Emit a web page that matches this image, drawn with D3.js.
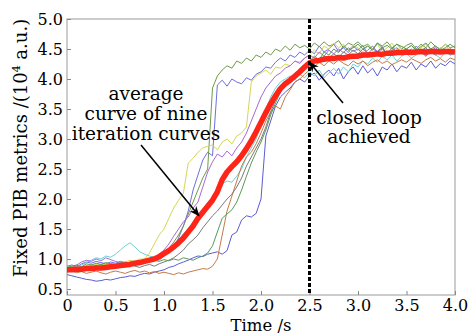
<!DOCTYPE html>
<html>
<head>
<meta charset="utf-8">
<script src="https://cdn.jsdelivr.net/npm/d3@7"></script>
<style>
  body { margin: 0; background: #fff; }
  text { font-family: "DejaVu Serif", serif; }
</style>
</head>
<body>
<div id="chart"></div>
<script>

// sample times (s)
var times = [
  0.00,0.05,0.10,0.15,0.20,0.25,0.30,0.35,0.40,0.45,
  0.50,0.55,0.60,0.65,0.70,0.75,0.80,0.85,0.90,0.95,
  1.00,1.05,1.10,1.15,1.20,1.25,1.30,1.35,1.40,1.45,
  1.50,1.55,1.60,1.65,1.70,1.75,1.80,1.85,1.90,1.95,
  2.00,2.05,2.10,2.15,2.20,2.25,2.30,2.35,2.40,2.45,
  2.50,2.55,2.60,2.65,2.70,2.75,2.80,2.85,2.90,2.95,
  3.00,3.05,3.10,3.15,3.20,3.25,3.30,3.35,3.40,3.45,
  3.50,3.55,3.60,3.65,3.70,3.75,3.80,3.85,3.90,3.95,
  4.00
];

// average curve (thick red)
var avgCurve = [
  0.82,0.82,0.83,0.83,0.84,0.84,0.85,0.85,0.86,0.87,
  0.88,0.89,0.90,0.91,0.93,0.94,0.96,0.98,1.00,1.04,
  1.09,1.14,1.20,1.27,1.35,1.45,1.55,1.68,1.78,1.88,
  1.98,2.12,2.32,2.45,2.54,2.62,2.72,2.84,2.97,3.12,
  3.28,3.44,3.59,3.72,3.84,3.92,3.98,4.05,4.12,4.20,
  4.27,4.30,4.31,4.33,4.34,4.34,4.36,4.35,4.37,4.38,
  4.38,4.40,4.40,4.41,4.42,4.41,4.43,4.43,4.44,4.44,
  4.45,4.44,4.45,4.46,4.45,4.46,4.46,4.45,4.46,4.46,
  4.45
];

// nine iteration curves
var iterBlueLate = [
  0.74,0.72,0.70,0.68,0.66,0.65,0.63,0.64,0.66,0.65,
  0.67,0.69,0.70,0.72,0.71,0.74,0.76,0.75,0.78,0.80,
  0.82,0.86,0.88,0.92,0.95,0.98,1.02,1.05,1.04,1.08,
  1.10,1.12,1.08,1.14,1.40,1.45,1.65,1.72,1.70,1.76,
  2.00,3.05,3.30,3.55,3.70,3.78,3.85,3.95,4.00,3.95,
  4.05,4.10,3.98,4.08,4.15,4.05,4.18,4.00,4.12,4.20,
  4.08,4.22,4.10,4.18,4.05,4.20,4.15,4.25,4.12,4.22,
  4.18,4.28,4.15,4.25,4.20,4.30,4.18,4.26,4.22,4.30,
  4.25
];
var iterBlueEarly = [
  0.88,0.90,0.87,0.92,0.95,0.93,0.96,0.94,0.92,0.95,
  0.93,0.96,0.94,0.92,0.95,0.97,0.95,0.98,1.00,0.98,
  1.05,1.12,1.20,1.35,1.55,1.80,2.15,2.40,2.65,2.78,
  2.72,3.90,3.98,3.88,4.00,3.95,3.92,4.02,3.98,4.08,
  4.12,4.20,4.18,4.28,4.35,4.30,4.40,4.36,4.45,4.40,
  4.48,4.42,4.55,4.45,4.50,4.58,4.46,4.52,4.44,4.55,
  4.48,4.56,4.42,4.50,4.46,4.54,4.40,4.48,4.52,4.45,
  4.50,4.42,4.55,4.46,4.40,4.50,4.45,4.52,4.42,4.48,
  4.45
];
var iterOlive = [
  0.85,0.84,0.87,0.86,0.88,0.90,0.89,0.91,0.90,0.92,
  0.91,0.93,0.92,0.95,0.94,0.96,0.98,1.00,1.02,1.05,
  1.10,1.18,1.28,1.40,1.55,1.75,1.95,2.15,2.35,2.50,
  3.85,4.05,4.15,4.22,4.18,4.30,4.26,4.35,4.30,4.40,
  4.36,4.45,4.40,4.50,4.46,4.55,4.48,4.58,4.52,4.56,
  4.50,4.60,4.54,4.62,4.55,4.58,4.64,4.52,4.60,4.56,
  4.62,4.54,4.58,4.50,4.60,4.55,4.62,4.52,4.58,4.50,
  4.56,4.60,4.50,4.58,4.52,4.62,4.54,4.50,4.58,4.52,
  4.55
];
var iterYellow = [
  0.86,0.88,0.85,0.87,0.90,0.88,0.91,0.89,0.92,0.90,
  0.93,0.91,0.95,0.98,0.96,1.00,1.00,1.10,1.25,1.40,
  1.50,1.68,1.85,1.98,2.10,2.60,2.68,2.78,2.85,2.88,
  2.90,2.82,2.95,3.00,2.92,3.05,3.10,3.20,3.95,4.05,
  4.10,4.15,4.08,4.20,4.18,4.25,4.22,4.30,4.28,4.35,
  4.40,4.48,4.42,4.55,4.50,4.60,4.52,4.58,4.48,4.56,
  4.52,4.45,4.55,4.50,4.58,4.46,4.52,4.60,4.48,4.55,
  4.50,4.56,4.46,4.52,4.58,4.48,4.54,4.50,4.58,4.46,
  4.50
];
var iterCyan = [
  0.86,0.84,0.88,0.90,0.94,0.98,1.02,1.00,1.05,1.03,
  1.08,1.15,1.22,1.27,1.20,1.12,1.08,1.05,1.03,1.06,
  1.10,1.15,1.22,1.30,1.42,1.50,1.62,1.70,1.80,1.85,
  1.92,2.10,2.25,2.30,2.28,2.38,2.50,2.70,2.85,3.00,
  3.25,3.50,3.70,3.85,3.95,4.00,4.05,3.98,4.08,4.02,
  4.12,4.05,4.15,4.02,4.10,4.18,4.08,4.20,4.12,4.25,
  4.20,4.30,4.25,4.35,4.28,4.38,4.32,4.40,4.30,4.38,
  4.42,4.35,4.40,4.45,4.38,4.46,4.40,4.35,4.44,4.40,
  4.42
];
var iterPurple = [
  0.80,0.85,0.90,0.95,0.98,0.96,1.00,0.97,1.02,0.99,
  0.96,0.94,0.92,0.95,0.93,0.97,0.95,0.99,1.02,1.08,
  1.15,1.25,1.38,1.50,1.62,1.70,1.85,1.95,2.20,2.45,
  2.62,2.75,2.70,2.80,2.72,2.85,2.95,3.10,3.30,3.50,
  3.70,3.85,3.95,4.05,4.10,4.18,4.22,4.30,4.26,4.35,
  4.40,4.35,4.45,4.38,4.48,4.42,4.50,4.44,4.52,4.46,
  4.50,4.42,4.48,4.55,4.45,4.50,4.42,4.52,4.46,4.40,
  4.48,4.42,4.50,4.45,4.38,4.46,4.52,4.44,4.48,4.40,
  4.45
];
var iterBrown = [
  0.78,0.80,0.77,0.79,0.76,0.78,0.80,0.77,0.75,0.78,
  0.80,0.78,0.76,0.79,0.81,0.78,0.80,0.77,0.79,0.76,
  0.78,0.76,0.74,0.77,0.75,0.78,0.80,0.82,0.84,0.83,
  0.88,1.00,1.40,1.80,2.05,2.30,2.55,2.70,2.78,2.92,
  3.10,3.30,3.45,3.55,3.50,3.70,3.82,3.95,4.00,4.08,
  4.15,4.20,4.28,4.22,4.30,4.25,4.32,4.26,4.22,4.30,
  4.25,4.30,4.22,4.28,4.32,4.26,4.30,4.24,4.28,4.32,
  4.28,4.34,4.30,4.26,4.32,4.36,4.30,4.34,4.28,4.35,
  4.32
];
var iterGray = [
  0.84,0.86,0.83,0.85,0.88,0.86,0.84,0.87,0.85,0.88,
  0.86,0.89,0.87,0.90,0.88,0.86,0.89,0.91,0.88,0.92,
  0.95,0.98,1.02,1.08,1.15,1.25,1.32,1.40,1.52,1.62,
  1.72,1.80,1.90,2.00,2.08,2.20,2.35,2.55,2.70,2.85,
  3.00,3.20,3.45,3.65,3.80,3.92,4.00,4.08,4.12,4.20,
  4.25,4.32,4.28,4.38,4.35,4.42,4.36,4.45,4.40,4.48,
  4.42,4.50,4.44,4.38,4.46,4.52,4.42,4.48,4.40,4.46,
  4.44,4.50,4.42,4.48,4.52,4.44,4.40,4.48,4.45,4.50,
  4.46
];
var iterGreen = [
  0.86,0.88,0.90,0.87,0.92,0.90,0.93,0.91,0.94,0.92,
  0.90,0.93,0.95,0.92,0.96,0.94,0.97,0.95,0.98,0.96,
  0.99,0.97,1.00,0.98,1.02,1.00,0.98,1.02,1.05,1.10,
  1.22,1.45,1.68,1.75,1.82,1.95,2.15,2.38,2.60,2.78,
  2.95,3.15,3.40,3.60,3.78,3.90,4.00,4.10,4.15,4.22,
  4.30,4.38,4.32,4.45,4.40,4.50,4.44,4.55,4.48,4.52,
  4.58,4.50,4.55,4.48,4.60,4.52,4.56,4.50,4.58,4.54,
  4.50,4.56,4.48,4.54,4.60,4.50,4.55,4.48,4.52,4.58,
  4.52
];

var iterCurves = [iterBlueLate, iterBlueEarly, iterOlive, iterYellow, iterCyan,
                  iterPurple, iterBrown, iterGray, iterGreen];
var iterColors = ["#5c5cd4", "#6f6fdc", "#6f9a4a", "#d6d658", "#6ad2d2",
                  "#a769d6", "#c67a4a", "#7a7a7a", "#5a9a5a"];

var xTicks = [0, 0.5, 1.0, 1.5, 2.0, 2.5, 3.0, 3.5, 4.0];
var xTickLabels = ["0", "0.5", "1.0", "1.5", "2.0", "2.5", "3.0", "3.5", "4.0"];
var yTicks = [0.5, 1.0, 1.5, 2.0, 2.5, 3.0, 3.5, 4.0, 4.5, 5.0];
var yTickLabels = ["0.5", "1.0", "1.5", "2.0", "2.5", "3.0", "3.5", "4.0", "4.5", "5.0"];

var loopTime = 2.5;


var w = 473, h = 336;
var margin = { top: 19, right: 18, bottom: 41, left: 67 };

var svg = d3.select("#chart").append("svg")
    .attr("width", w)
    .attr("height", h);

var x = d3.scaleLinear().domain([0, 4]).range([margin.left, w - margin.right]);
var y = d3.scaleLinear().domain([0.4, 5]).range([h - margin.bottom, margin.top]);

svg.append("defs").append("clipPath").attr("id", "plotClip")
  .append("rect")
    .attr("x", margin.left).attr("y", margin.top)
    .attr("width", x(4) - x(0)).attr("height", y(0.4) - y(5));

svg.select("defs").append("marker")
    .attr("id", "arrow")
    .attr("viewBox", "0 0 10 10")
    .attr("refX", 9).attr("refY", 5)
    .attr("markerWidth", 7).attr("markerHeight", 7)
    .attr("orient", "auto")
  .append("path")
    .attr("d", "M0,1 L10,5 L0,9 L3,5 z")
    .attr("fill", "#000");

// frame
svg.append("rect")
    .attr("x", x(0)).attr("y", y(5))
    .attr("width", x(4) - x(0)).attr("height", y(0.4) - y(5))
    .attr("fill", "none")
    .attr("stroke", "#999")
    .attr("stroke-width", 1);

// axes
var xAxis = svg.append("g")
    .attr("transform", "translate(0," + y(0.4) + ")")
    .call(d3.axisBottom(x).tickValues(xTicks)
      .tickFormat(function(d, i) { return xTickLabels[i]; })
      .tickSizeInner(-4).tickSizeOuter(0).tickPadding(5));

var yAxis = svg.append("g")
    .attr("transform", "translate(" + x(0) + ",0)")
    .call(d3.axisLeft(y).tickValues(yTicks)
      .tickFormat(function(d, i) { return yTickLabels[i]; })
      .tickSizeInner(-4).tickSizeOuter(0).tickPadding(4));

[xAxis, yAxis].forEach(function(g) {
  g.select(".domain").remove();
  g.selectAll(".tick line").attr("stroke", "#888");
  g.selectAll("text")
    .attr("fill", "#000")
    .style("font-family", "DejaVu Serif")
    .style("font-size", "16px");
});

// curves
var line = d3.line()
    .x(function(d, i) { return x(times[i]); })
    .y(function(d) { return y(d); });

var plot = svg.append("g").attr("clip-path", "url(#plotClip)");

iterCurves.forEach(function(c, k) {
  plot.append("path")
      .attr("d", line(c))
      .attr("fill", "none")
      .attr("stroke", iterColors[k])
      .attr("stroke-width", 1);
});

plot.append("path")
    .attr("d", line(avgCurve))
    .attr("fill", "none")
    .attr("stroke", "#ff2418")
    .attr("stroke-width", 5.5)
    .attr("stroke-linejoin", "round");

// closed loop marker
svg.append("line")
    .attr("x1", x(loopTime)).attr("x2", x(loopTime))
    .attr("y1", y(5)).attr("y2", y(0.4))
    .attr("stroke", "#000")
    .attr("stroke-width", 3)
    .attr("stroke-dasharray", "4,2");

// annotations
var note1 = svg.append("text")
    .attr("text-anchor", "middle")
    .style("font-size", "18.5px")
    .attr("fill", "#000");
note1.append("tspan").attr("x", 146).attr("y", 100).text("average");
note1.append("tspan").attr("x", 146).attr("y", 120).text("curve of nine");
note1.append("tspan").attr("x", 146).attr("y", 140).text("iteration curves");

svg.append("line")
    .attr("x1", 141).attr("y1", 145)
    .attr("x2", x(1.36)).attr("y2", y(1.72))
    .attr("stroke", "#000").attr("stroke-width", 1.5)
    .attr("marker-end", "url(#arrow)");

var note2 = svg.append("text")
    .attr("text-anchor", "middle")
    .style("font-size", "18.5px")
    .attr("fill", "#000");
note2.append("tspan").attr("x", 369).attr("y", 124).text("closed loop");
note2.append("tspan").attr("x", 369).attr("y", 143).text("achieved");

svg.append("line")
    .attr("x1", 343).attr("y1", 103)
    .attr("x2", x(loopTime)).attr("y2", y(4.28))
    .attr("stroke", "#000").attr("stroke-width", 1.5)
    .attr("marker-end", "url(#arrow)");

// axis titles
svg.append("text")
    .attr("x", (x(0) + x(4)) / 2)
    .attr("y", 331)
    .attr("text-anchor", "middle")
    .style("font-size", "16.5px")
    .text("Time /s");

var yTitle = svg.append("text")
    .attr("transform", "translate(27," + 148 + ") rotate(-90)")
    .attr("text-anchor", "middle")
    .style("font-size", "18px");
yTitle.append("tspan").text("Fixed PIB metrics /(10");
yTitle.append("tspan").attr("dy", -7).style("font-size", "11px").text("4");
yTitle.append("tspan").attr("dy", 7).text(" a.u.)");

</script>
</body>
</html>
